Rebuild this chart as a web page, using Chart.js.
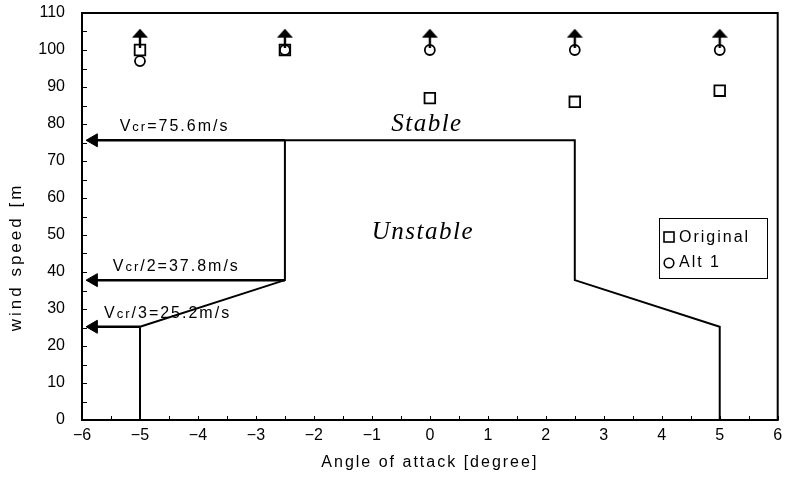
<!DOCTYPE html>
<html>
<head>
<meta charset="utf-8">
<script src="https://cdn.jsdelivr.net/npm/chart.js@4.4.1/dist/chart.umd.min.js"></script>
<style>
  body { margin: 0; background: #fff; }
  #wrap { width: 787px; height: 482px; }
</style>
</head>
<body>
<div id="wrap"><canvas id="chart1" width="787" height="482"></canvas></div>
<script>
// angle of attack for each test case
const angles = [-5, -2.5, 0, 2.5, 5];
const originalSpeed = [100, 100, 87, 86, 89];
const alt1Speed = [97, 100, 100, 100, 100];
// arrows drawn above the markers (speed beyond the tested range)
const arrowSpeed = [103.2, 103.2, 103.2, 103.2, 103.2];

// stability boundary
const boundaryX = [-5, -5, -2.5, -2.5, 2.5, 2.5, 5, 5];
const boundaryY = [0, 25.2, 37.8, 75.6, 75.6, 37.8, 25.2, 0];

// critical speed markers
const vcrLevels = [75.6, 37.8, 25.2];
const vcrStartX = [-2.5, -2.5, -5];
const vcrLabels = [['V', 'cr', '=75.6m/s'], ['V', 'cr', '/2=37.8m/s'], ['V', 'cr', '/3=25.2m/s']];
const arrowHeadX = -5.8;

const xTicks = [-6, -5, -4, -3, -2, -1, 0, 1, 2, 3, 4, 5, 6];
const yTicks = [0, 10, 20, 30, 40, 50, 60, 70, 80, 90, 100, 110];

const sans = '"Liberation Sans", Arial, sans-serif';

// up arrow image used as a point style
const upArrow = document.createElement('canvas');
upArrow.width = 16;
upArrow.height = 19;
let a = upArrow.getContext('2d');
a.fillStyle = '#000';
a.beginPath();
a.moveTo(0, 9);
a.lineTo(8, 0);
a.lineTo(16, 9);
a.closePath();
a.fill();
a.fillRect(6.8, 8, 2.4, 11);

function pts(xs, ys) {
  return xs.map((x, i) => ({ x: x, y: ys[i] }));
}

const datasets = [];

datasets.push({
  label: 'boundary',
  data: pts(boundaryX, boundaryY),
  showLine: true,
  borderColor: '#000',
  borderWidth: 2,
  pointRadius: 0,
  fill: false
});

vcrLevels.forEach((v, i) => {
  datasets.push({
    label: 'vcr' + i,
    data: [{ x: arrowHeadX, y: v }, { x: vcrStartX[i], y: v }],
    showLine: true,
    borderColor: '#000',
    backgroundColor: '#000',
    borderWidth: 2.5,
    pointStyle: 'triangle',
    pointRotation: 270,
    pointRadius: [7.5, 0],
    pointBorderWidth: 1
  });
});

datasets.push({
  label: 'arrows',
  data: pts(angles, arrowSpeed),
  pointStyle: upArrow,
  pointRadius: 8
});

datasets.push({
  label: 'Original',
  data: pts(angles, originalSpeed),
  pointStyle: 'rect',
  pointRadius: 7.5,
  borderColor: '#000',
  backgroundColor: 'rgba(0,0,0,0)',
  borderWidth: 1.8
});

datasets.push({
  label: 'Alt 1',
  data: pts(angles, alt1Speed),
  pointStyle: 'circle',
  pointRadius: 5,
  borderColor: '#000',
  backgroundColor: 'rgba(0,0,0,0)',
  borderWidth: 1.8
});

const decor = {
  id: 'decor',
  afterDraw(chart) {
    const ctx = chart.ctx;
    const area = chart.chartArea;
    const xs = chart.scales.x;
    const ys = chart.scales.y;
    ctx.save();

    // frame
    ctx.strokeStyle = '#000';
    ctx.lineWidth = 2;
    ctx.strokeRect(area.left, area.top, area.right - area.left, area.bottom - area.top);

    // inward ticks
    ctx.lineWidth = 1;
    for (let v = 0; v <= 110; v += 5) {
      let py = Math.round(ys.getPixelForValue(v)) + 0.5;
      ctx.beginPath();
      ctx.moveTo(area.left, py);
      ctx.lineTo(area.left + 5, py);
      ctx.stroke();
    }
    for (let v = -6; v <= 6; v += 0.5) {
      let px = Math.round(xs.getPixelForValue(v)) + 0.5;
      ctx.beginPath();
      ctx.moveTo(px, area.bottom);
      ctx.lineTo(px, area.bottom - 4);
      ctx.stroke();
    }

    // critical speed labels
    ctx.fillStyle = '#000';
    ctx.textBaseline = 'alphabetic';
    ctx.letterSpacing = '2px';
    const labelX = [-5.35, -5.47, -5.62];
    vcrLabels.forEach((parts, i) => {
      let px = xs.getPixelForValue(labelX[i]);
      let py = ys.getPixelForValue(vcrLevels[i]) - 9;
      ctx.font = '16px ' + sans;
      ctx.fillText(parts[0], px, py);
      px += ctx.measureText(parts[0]).width;
      ctx.font = '13px ' + sans;
      ctx.fillText(parts[1], px, py);
      px += ctx.measureText(parts[1]).width;
      ctx.font = '16px ' + sans;
      ctx.fillText(parts[2], px, py);
    });

    // region names
    ctx.letterSpacing = '1.5px';
    ctx.font = 'italic 25px "Liberation Serif", "Times New Roman", serif';
    ctx.textAlign = 'center';
    ctx.textBaseline = 'middle';
    ctx.fillText('Stable', xs.getPixelForValue(-0.05), ys.getPixelForValue(79.8));
    ctx.fillText('Unstable', xs.getPixelForValue(-0.12), ys.getPixelForValue(50.8));

    // axis titles (y one is cut off like the original)
    ctx.letterSpacing = '2px';
    ctx.font = '16px ' + sans;
    ctx.fillText('Angle of attack [degree]', (area.left + area.right) / 2, 463);
    ctx.save();
    ctx.translate(16, 257);
    ctx.rotate(-Math.PI / 2);
    ctx.letterSpacing = '3px';
    ctx.font = '17px ' + sans;
    ctx.fillText('wind speed [m', 0, 0);
    ctx.restore();

    // legend
    const lx = 659, ly = 218, lw = 108, lh = 60;
    ctx.fillStyle = '#fff';
    ctx.fillRect(lx, ly, lw, lh);
    ctx.strokeStyle = '#000';
    ctx.lineWidth = 1;
    ctx.strokeRect(lx + 0.5, ly + 0.5, lw, lh);
    ctx.fillStyle = '#000';
    ctx.textAlign = 'left';
    ctx.letterSpacing = '2px';
    ctx.font = '16px ' + sans;
    ctx.lineWidth = 1.6;
    ctx.strokeRect(664, 232, 10, 10);
    ctx.fillText('Original', 679, 238);
    ctx.beginPath();
    ctx.arc(669, 263, 4.8, 0, Math.PI * 2);
    ctx.stroke();
    ctx.fillText('Alt 1', 679, 263);

    ctx.restore();
  }
};

const config = {
  type: 'scatter',
  data: { datasets: datasets },
  options: {
    responsive: false,
    animation: false,
    layout: { padding: { top: 13, right: 7, left: 0, bottom: 0 } },
    plugins: {
      legend: { display: false },
      tooltip: { enabled: false }
    },
    scales: {
      x: {
        type: 'linear',
        min: -6,
        max: 6,
        afterBuildTicks(scale) {
          scale.ticks = xTicks.map(v => ({ value: v }));
        },
        afterFit(scale) {
          scale.height = 62;
          scale.paddingLeft = 0;
          scale.paddingRight = 0;
        },
        grid: { display: false, drawTicks: false },
        border: { display: false },
        ticks: {
          color: '#000',
          font: { family: sans, size: 16 },
          padding: 6,
          maxRotation: 0,
          callback: v => String(v).replace('-', '\u2212')
        }
      },
      y: {
        type: 'linear',
        min: 0,
        max: 110,
        afterBuildTicks(scale) {
          scale.ticks = yTicks.map(v => ({ value: v }));
        },
        afterFit(scale) {
          scale.width = 82;
          scale.paddingTop = 0;
          scale.paddingBottom = 0;
        },
        grid: { display: false, drawTicks: false },
        border: { display: false },
        ticks: {
          color: '#000',
          font: { family: sans, size: 16 },
          padding: 17
        }
      }
    }
  },
  plugins: [decor]
};

const myChart = new Chart(document.getElementById('chart1'), config);
</script>
</body>
</html>
